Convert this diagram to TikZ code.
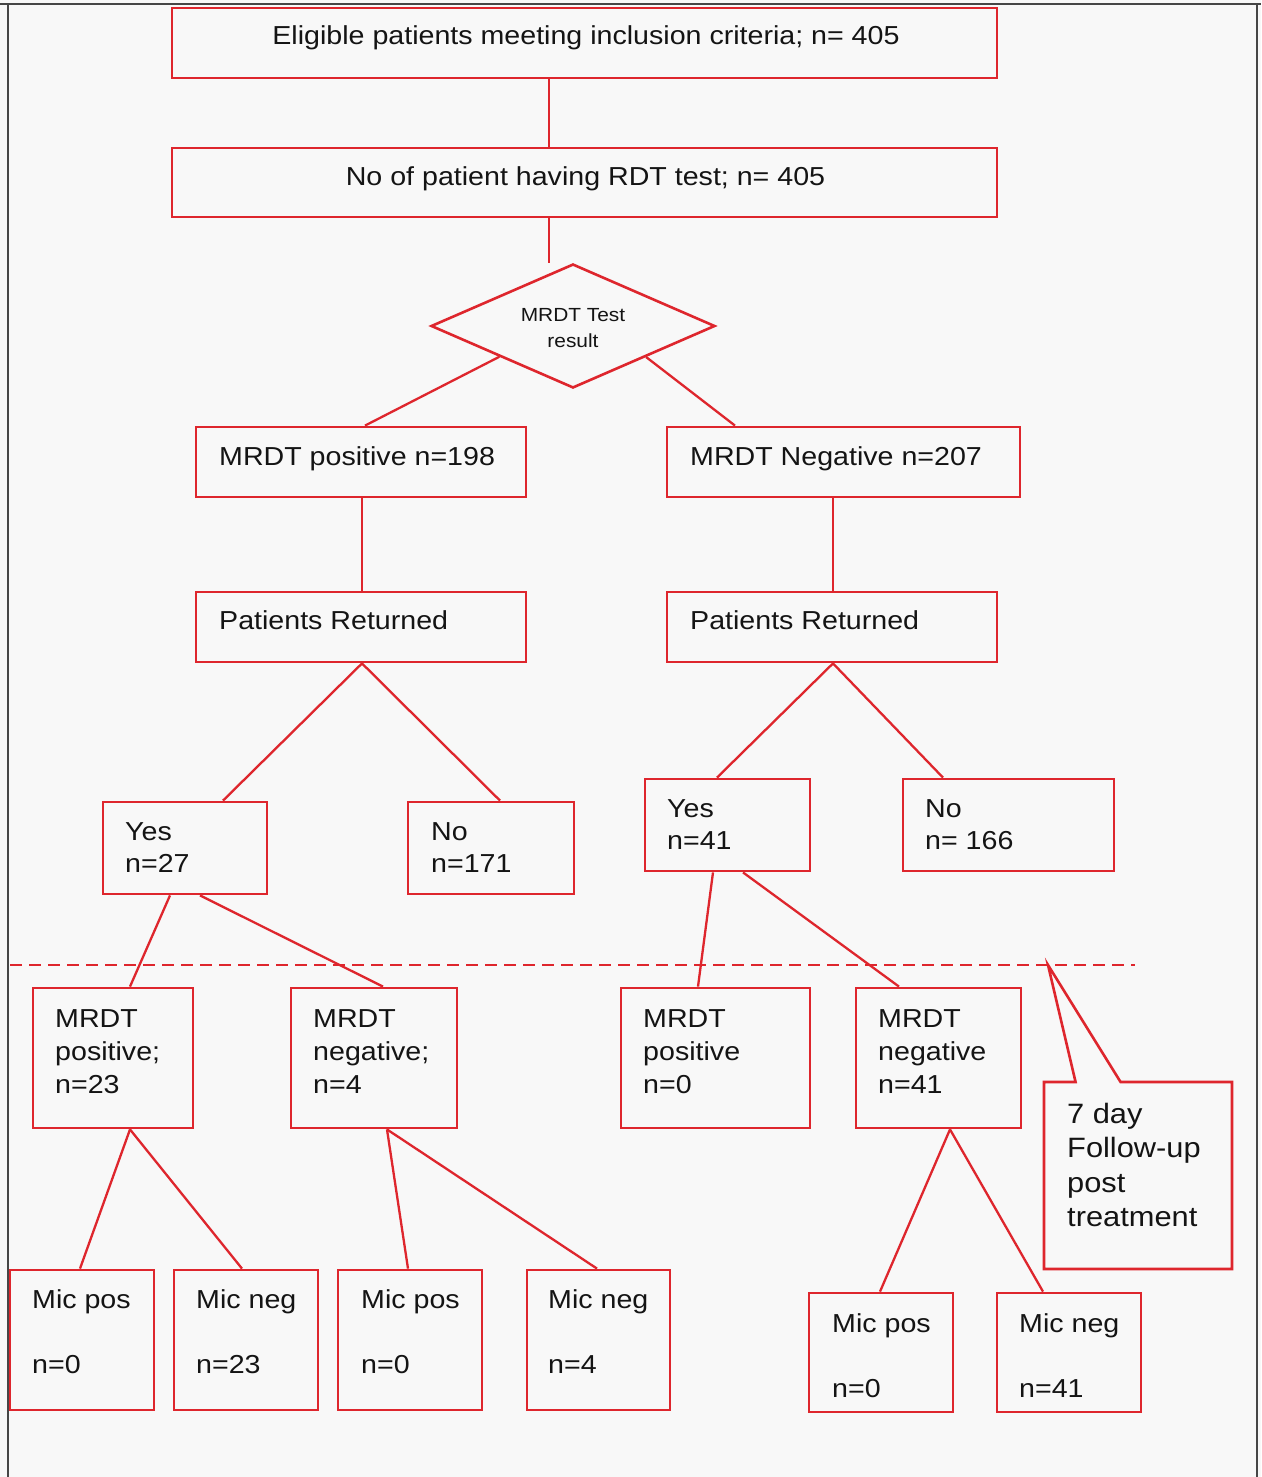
\documentclass[tikz,border=0pt]{standalone}
\usepackage{fontspec}
\setmainfont{Liberation Sans}[FakeStretch=1.1]
\usetikzlibrary{shapes.geometric,shapes.callouts,calc}
\definecolor{boxred}{RGB}{222,38,45}
\definecolor{ink}{RGB}{20,20,20}
\definecolor{paper}{RGB}{248,248,248}
\definecolor{framegray}{RGB}{70,70,70}
\newcommand\fsz[1]{\fontsize{#1}{#1}\selectfont}
\begin{document}
\begin{tikzpicture}[x=1pt,y=-1pt,
  box/.style={draw=boxred, line width=2.8pt, rectangle, inner sep=0pt},
  link/.style={draw=boxred, line width=2.3pt},
  lbl/.style={anchor=base west, inner sep=0pt, text=ink, font=\fsz{26}},
  clbl/.style={anchor=base, inner sep=0pt, text=ink, font=\fsz{26}},
]
\useasboundingbox (0,0) rectangle (1261,1477);
\fill[paper] (0,0) rectangle (1261,1477);
% frame of the page
\draw[framegray, line width=2pt] (0,4) -- (1261,4);
\draw[framegray, line width=2pt] (8,4) -- (8,1477);
\draw[framegray, line width=2pt] (1257,4) -- (1257,1477);

% boxes
\node[box, minimum width=825pt, minimum height=70pt] (b1) at (584.5,43) {};
\node[box, minimum width=825pt, minimum height=69pt] (b2) at (584.5,182.5) {};
\node[draw=boxred, line width=2.6pt, diamond, minimum width=284pt, minimum height=124pt, inner sep=0pt] (dia) at (573,326) {};
\node[box, minimum width=330pt, minimum height=70pt] (mpos) at (361,462) {};
\node[box, minimum width=353pt, minimum height=70pt] (mneg) at (843.5,462) {};
\node[box, minimum width=330pt, minimum height=70pt] (pr1) at (361,627) {};
\node[box, minimum width=330pt, minimum height=70pt] (pr2) at (832,627) {};
\node[box, minimum width=164pt, minimum height=92pt] (yes27) at (185,848) {};
\node[box, minimum width=166pt, minimum height=92pt] (no171) at (491,848) {};
\node[box, minimum width=165pt, minimum height=92pt] (yes41) at (727.5,825) {};
\node[box, minimum width=211pt, minimum height=92pt] (no166) at (1008.5,825) {};
\node[box, minimum width=160pt, minimum height=140pt] (m23) at (113,1058) {};
\node[box, minimum width=166pt, minimum height=140pt] (m4) at (374,1058) {};
\node[box, minimum width=189pt, minimum height=140pt] (m0) at (715.5,1058) {};
\node[box, minimum width=165pt, minimum height=140pt] (m41) at (938.5,1058) {};
\node[box, minimum width=144pt, minimum height=140pt] (mp1) at (82,1340) {};
\node[box, minimum width=144pt, minimum height=140pt] (mn1) at (246,1340) {};
\node[box, minimum width=144pt, minimum height=140pt] (mp2) at (410,1340) {};
\node[box, minimum width=143pt, minimum height=140pt] (mn2) at (598.5,1340) {};
\node[box, minimum width=144pt, minimum height=119pt] (mp3) at (881,1352.5) {};
\node[box, minimum width=144pt, minimum height=119pt] (mn3) at (1069,1352.5) {};

% dashed follow-up line and callout
\coordinate (dl) at (10,965);
\coordinate (dr) at (1135,965);
\coordinate (tip) at (1048,965);
\draw[boxred, line width=2.4pt, dash pattern=on 12pt off 7pt] (dl) -- (dr);
\node[shape=rectangle callout, draw=boxred, line width=2.6pt, minimum width=188pt, minimum height=187pt, inner sep=0pt, callout absolute pointer={(tip)}, callout pointer width=45pt] (fu) at (1138,1175.5) {};

% connectors
\draw[link] (b1.south -| 549,0) -- (b2.north -| 549,0);
\draw[link] (b2.south -| 549,0) -- (dia.north -| 549,0);
\draw[link] ($(dia.west)!0.486!(dia.south)$) -- (mpos.north -| 365,0);
\draw[link] ($(dia.east)!0.49!(dia.south)$) -- (mneg.north -| 735,0);
\draw[link] (mpos.south -| 362,0) -- (pr1.north -| 362,0);
\draw[link] (mneg.south -| 833,0) -- (pr2.north -| 833,0);
\draw[link] (pr1.south -| 362,0) -- (yes27.north -| 223,0);
\draw[link] (pr1.south -| 362,0) -- (no171.north -| 500,0);
\draw[link] (pr2.south -| 833,0) -- (yes41.north -| 717,0);
\draw[link] (pr2.south -| 833,0) -- (no166.north -| 943,0);
\draw[link] (yes27.south -| 170,0) -- (m23.north -| 130,0);
\draw[link] (yes27.south -| 200,0) -- (m4.north -| 383,0);
\draw[link] (yes41.south -| 713,0) -- (m0.north -| 698,0);
\draw[link] (yes41.south -| 743,0) -- (m41.north -| 899,0);
\draw[link] (m23.south -| 130,0) -- (mp1.north -| 80,0);
\draw[link] (m23.south -| 130,0) -- (mn1.north -| 242,0);
\draw[link] (m4.south -| 387,0) -- (mp2.north -| 408,0);
\draw[link] (m4.south -| 387,0) -- (mn2.north -| 597,0);
\draw[link] (m41.south -| 950,0) -- (mp3.north -| 880,0);
\draw[link] (m41.south -| 950,0) -- (mn3.north -| 1043,0);

% texts
\node[clbl] (t1) at (586,45) {Eligible patients meeting inclusion criteria; n= 405};
\node[clbl] (t2) at (585.5,185) {No of patient having RDT test; n= 405};
\node[clbl, font=\fsz{19}] (t3a) at (573,321) {MRDT Test};
\node[clbl, font=\fsz{19}] (t3b) at (573,347) {result};
\node[lbl] (t4) at (219,465) {MRDT positive n=198};
\node[lbl] (t5) at (690,465) {MRDT Negative n=207};
\node[lbl] (t6) at (219,629) {Patients Returned};
\node[lbl] (t7) at (690,629) {Patients Returned};
\node[lbl] (t8a) at (125,840) {Yes};
\node[lbl] (t8b) at (125,872) {n=27};
\node[lbl] (t9a) at (431,840) {No};
\node[lbl] (t9b) at (431,872) {n=171};
\node[lbl] (t10a) at (667,817) {Yes};
\node[lbl] (t10b) at (667,849) {n=41};
\node[lbl] (t11a) at (925,817) {No};
\node[lbl] (t11b) at (925,849) {n= 166};
\node[lbl] (t12a) at (55,1027) {MRDT};
\node[lbl] (t12b) at (55,1060) {positive;};
\node[lbl] (t12c) at (55,1093) {n=23};
\node[lbl] (t13a) at (313,1027) {MRDT};
\node[lbl] (t13b) at (313,1060) {negative;};
\node[lbl] (t13c) at (313,1093) {n=4};
\node[lbl] (t14a) at (643,1027) {MRDT};
\node[lbl] (t14b) at (643,1060) {positive};
\node[lbl] (t14c) at (643,1093) {n=0};
\node[lbl] (t15a) at (878,1027) {MRDT};
\node[lbl] (t15b) at (878,1060) {negative};
\node[lbl] (t15c) at (878,1093) {n=41};
\node[lbl, font=\fsz{28}] (t16a) at (1067,1123) {7 day};
\node[lbl, font=\fsz{28}] (t16b) at (1067,1157.5) {Follow-up};
\node[lbl, font=\fsz{28}] (t16c) at (1067,1192) {post};
\node[lbl, font=\fsz{28}] (t16d) at (1067,1226.5) {treatment};
\node[lbl] (t17a) at (32,1308) {Mic pos};
\node[lbl] (t17b) at (32,1373) {n=0};
\node[lbl] (t18a) at (196,1308) {Mic neg};
\node[lbl] (t18b) at (196,1373) {n=23};
\node[lbl] (t19a) at (361,1308) {Mic pos};
\node[lbl] (t19b) at (361,1373) {n=0};
\node[lbl] (t20a) at (548,1308) {Mic neg};
\node[lbl] (t20b) at (548,1373) {n=4};
\node[lbl] (t21a) at (832,1332) {Mic pos};
\node[lbl] (t21b) at (832,1397) {n=0};
\node[lbl] (t22a) at (1019,1332) {Mic neg};
\node[lbl] (t22b) at (1019,1397) {n=41};
\end{tikzpicture}
\end{document}
